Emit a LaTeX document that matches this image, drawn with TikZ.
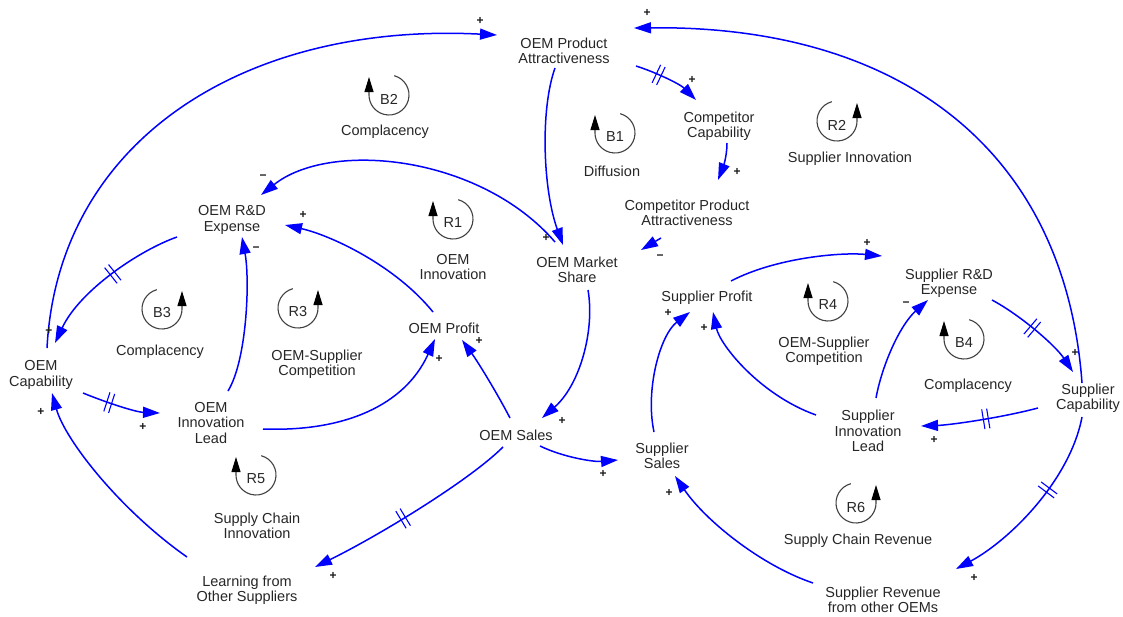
\documentclass[tikz,border=0pt]{standalone}
\usepackage{fontspec}
\setmainfont{Liberation Sans}
\usetikzlibrary{arrows.meta,calc,decorations.markings}
\tikzset{
 var/.style={align=center, inner sep=0pt, font=\fontsize{14.5}{15.2}\selectfont, text=black!85},
 sgn/.style={inner sep=0pt, font=\fontsize{12}{12}\bfseries\selectfont, text=black!90},
 link/.style={draw=blue, line width=1.5pt, -{Triangle[length=17pt,width=11pt]}},
 delay/.style={postaction={decorate}, decoration={markings, mark=at position #1 with {\draw[blue, line width=1.1pt, -] (-2.5pt,-10pt) -- (-2.5pt,10pt) (2.5pt,-10pt) -- (2.5pt,10pt);}}},
 loopc/.style={draw=black!75, line width=1.1pt},
 looptip/.style={-{Triangle[length=15pt,width=9pt,black]}},
}
\newcommand\lpL[4]{%
 \node[var] (#1) at (#2,-#3) {#4};
 \draw[loopc, looptip] ($(#1)+(0,4)+(75:20)$) arc[start angle=75, end angle=-180, radius=20] -- ++(0,18);
}
\newcommand\lpR[4]{%
 \node[var] (#1) at (#2,-#3) {#4};
 \draw[loopc, looptip] ($(#1)+(0,4)+(105:20)$) arc[start angle=105, end angle=360, radius=20] -- ++(0,18);
}
\begin{document}
\begin{tikzpicture}[x=1pt,y=1pt]
\useasboundingbox (0,0) rectangle (1123,-616);
% variables
\node[var] (opa) at (564,-51) {OEM Product\\Attractiveness};
\node[var] (cc) at (719,-126) {Competitor\\Capability};
\node[var] (cpa) at (687,-213) {Competitor Product\\Attractiveness};
\node[var] (oms) at (577,-270) {OEM Market\\Share};
\node[var] (ord) at (232,-220) {OEM R\&D\\Expense};
\node[var] (ocap) at (41,-375) {OEM\\Capability};
\node[var] (oil) at (211,-423) {OEM\\Innovation\\Lead};
\node[var] (oprof) at (444,-328) {OEM Profit};
\node[var] (osales) at (516,-435) {OEM Sales};
\node[var] (ssales) at (662,-456) {Supplier\\Sales};
\node[var] (sprof) at (707,-298) {Supplier Profit};
\node[var] (srd) at (949,-283) {Supplier R\&D\\Expense};
\node[var] (scap) at (1088,-398) {Supplier\\Capability};
\node[var] (sil) at (868,-431) {Supplier\\Innovation\\Lead};
\node[var] (srev) at (883,-600) {Supplier Revenue\\from other OEMs};
\node[var] (learn) at (247,-590) {Learning from\\Other Suppliers};
% loops
\lpL{b2}{389}{99}{B2}
\node[var] (b2t) at (385,-132) {Complacency};
\lpL{b1}{615}{137}{B1}
\node[var] (b1t) at (612,-171) {Diffusion};
\lpR{r2}{837}{125}{R2}
\node[var] (r2t) at (850,-159) {Supplier Innovation};
\lpL{r1}{453}{223}{R1}
\node[var] (r1t) at (453,-267) {OEM\\Innovation};
\lpR{r3}{298}{312}{R3}
\node[var] (r3t) at (317,-364) {OEM-Supplier\\Competition};
\lpR{b3}{162}{313}{B3}
\node[var] (b3t) at (160,-352) {Complacency};
\lpL{r5}{256}{479}{R5}
\node[var] (r5t) at (257,-526) {Supply Chain\\Innovation};
\lpL{r4}{828}{305}{R4}
\node[var] (r4t) at (824,-351) {OEM-Supplier\\Competition};
\lpL{b4}{964}{343}{B4}
\node[var] (b4t) at (968,-386) {Complacency};
\lpR{r6}{856}{507}{R6}
\node[var] (r6t) at (858,-541) {Supply Chain Revenue};
% links
\draw[link] ($(ocap)+(6,27)$) .. controls (58,-140) and (245,-22) .. ($(opa)+(-67,16)$);
\draw[link] ($(scap)+(-6,15)$) .. controls (1065,-150) and (900,-25) .. ($(opa)+(70,23)$);
\draw[link] ($(opa)+(-9,-17)$) .. controls (540,-110) and (543,-190) .. ($(oms)+(-14,25)$);
\draw[link,delay=0.35] ($(opa)+(72,-15)$) .. controls (655,-72) and (680,-84) .. ($(cc)+(-23,26)$);
\draw[link] ($(cc)+(8,-17)$) .. controls (727,-158) and (722,-170) .. ($(cpa)+(31,33)$);
\draw[link] ($(cpa)+(-26,-25)$) -- ($(oms)+(64,20)$);
\draw[link] ($(oms)+(-22,28)$) .. controls (480,-155) and (330,-140) .. ($(ord)+(29,25)$);
\draw[link] ($(oprof)+(-11,16)$) .. controls (395,-265) and (330,-235) .. ($(ord)+(53,-5)$);
\draw[link] ($(oil)+(17,32)$) .. controls (247,-360) and (250,-280) .. ($(ord)+(10,-17)$);
\draw[link,delay=0.45] ($(ord)+(-55,-17)$) .. controls (140,-250) and (80,-290) .. ($(ocap)+(14,32)$);
\draw[link,delay=0.35] ($(ocap)+(42,-18)$) .. controls (105,-402) and (135,-412) .. ($(oil)+(-51,10)$);
\draw[link] ($(oil)+(52,-6)$) .. controls (345,-432) and (405,-405) .. ($(oprof)+(-9,-11)$);
\draw[link] ($(osales)+(-6,17)$) .. controls (497,-393) and (478,-362) .. ($(oprof)+(18,-12)$);
\draw[link] ($(oms)+(11,-20)$) .. controls (595,-330) and (580,-385) .. ($(osales)+(26,17)$);
\draw[link] ($(osales)+(24,-11)$) .. controls (565,-458) and (595,-462) .. ($(ssales)+(-44,-4)$);
\draw[link,delay=0.55] ($(osales)+(-13,-12)$) .. controls (470,-480) and (380,-535) .. ($(learn)+(68,23)$);
\draw[link] ($(learn)+(-60,33)$) .. controls (120,-510) and (65,-440) .. ($(ocap)+(11,-18)$);
\draw[link] ($(ssales)+(-8,24)$) .. controls (645,-390) and (660,-335) .. ($(sprof)+(-17,-14)$);
\draw[link] ($(sil)+(-52,16)$) .. controls (760,-395) and (720,-345) .. ($(sprof)+(6,-14)$);
\draw[link] ($(sprof)+(24,17)$) .. controls (775,-258) and (840,-252) .. ($(srd)+(-67,27)$);
\draw[link] ($(sil)+(8,33)$) .. controls (882,-365) and (900,-325) .. ($(srd)+(-21,-17)$);
\draw[link,delay=0.45] ($(srd)+(43,-17)$) .. controls (1020,-315) and (1055,-345) .. ($(scap)+(-15,26)$);
\draw[link,delay=0.45] ($(scap)+(-50,-10)$) .. controls (1000,-418) and (950,-425) .. ($(sil)+(53,5)$);
\draw[link,delay=0.4] ($(scap)+(-6,-19)$) .. controls (1070,-480) and (1010,-540) .. ($(srev)+(73,31)$);
\draw[link] ($(srev)+(-70,17)$) .. controls (760,-565) and (705,-520) .. ($(ssales)+(13,-20)$);
% polarity signs
\node[sgn] (s1) at (480,-21) {+};
\node[sgn] (s2) at (647,-13) {+};
\node[sgn] (s3) at (546,-238) {+};
\node[sgn] (s4) at (692,-80) {+};
\node[sgn] (s5) at (737,-172) {+};
\node[sgn] (s6) at (660,-257) {−};
\node[sgn] (s7) at (263,-177) {−};
\node[sgn] (s8) at (303,-215) {+};
\node[sgn] (s9) at (256,-249) {−};
\node[sgn] (s10) at (49,-331) {+};
\node[sgn] (s11) at (143,-427) {+};
\node[sgn] (s12) at (41,-412) {+};
\node[sgn] (s13) at (333,-576) {+};
\node[sgn] (s14) at (439,-359) {+};
\node[sgn] (s15) at (479,-341) {+};
\node[sgn] (s16) at (562,-421) {+};
\node[sgn] (s17) at (603,-474) {+};
\node[sgn] (s18) at (669,-493) {+};
\node[sgn] (s19) at (668,-313) {+};
\node[sgn] (s20) at (704,-328) {+};
\node[sgn] (s21) at (867,-243) {+};
\node[sgn] (s22) at (906,-304) {−};
\node[sgn] (s23) at (1075,-353) {+};
\node[sgn] (s24) at (934,-440) {+};
\node[sgn] (s25) at (974,-578) {+};
\end{tikzpicture}
\end{document}
